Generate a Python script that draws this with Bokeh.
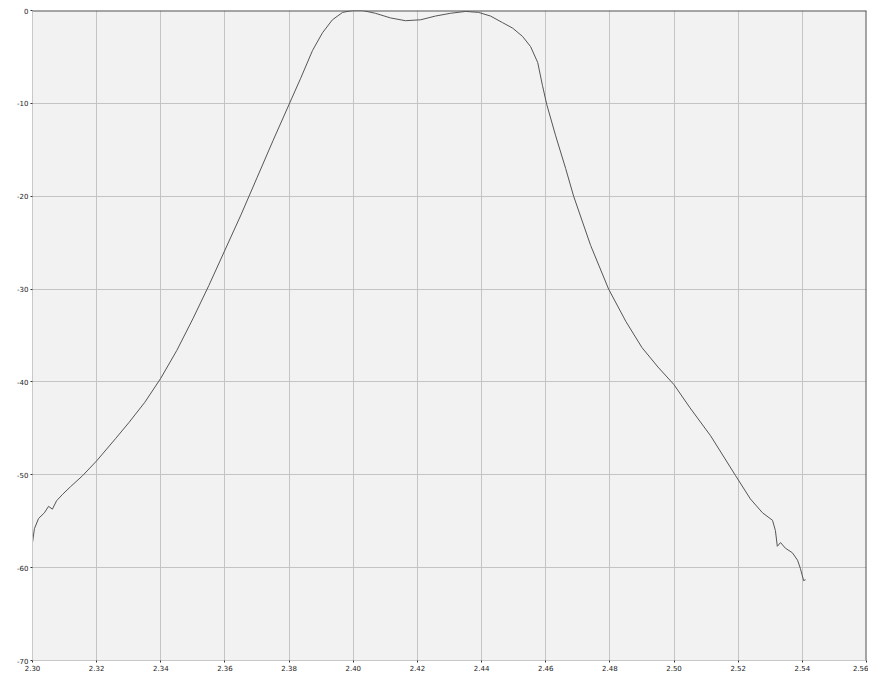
from bokeh.plotting import figure
from bokeh.models import FixedTicker, Span, Range1d
from bokeh.embed import file_html
from bokeh.resources import INLINE

# Frequency (GHz) and response (dB)
freq = [2.3000, 2.3006, 2.3019, 2.3037, 2.3050, 2.3062, 2.3075, 2.3094, 2.3118, 2.3156,
        2.3200, 2.3259, 2.3300, 2.3350, 2.3400, 2.3450, 2.3500, 2.3550, 2.3600, 2.3650,
        2.3700, 2.3750, 2.3800, 2.3836, 2.3873, 2.3904, 2.3935, 2.3967, 2.3998, 2.4029,
        2.4069, 2.4116, 2.4163, 2.4210, 2.4256, 2.4303, 2.4350, 2.4390, 2.4428, 2.4465,
        2.4497, 2.4528, 2.4553, 2.4575, 2.4590, 2.4603, 2.4631, 2.4662, 2.4687, 2.4740,
        2.4796, 2.4850, 2.4900, 2.4950, 2.5000, 2.5050, 2.5114, 2.5192, 2.5238, 2.5276,
        2.5307, 2.5316, 2.5322, 2.5332, 2.5347, 2.5369, 2.5385, 2.5394, 2.5404, 2.5410]
resp = [-57.3, -55.8, -54.7, -54.1, -53.4, -53.7, -52.8, -52.1, -51.3, -50.1,
        -48.5, -46.1, -44.4, -42.2, -39.6, -36.6, -33.2, -29.6, -25.8, -22.0,
        -18.0, -14.0, -10.1, -7.3, -4.3, -2.4, -1.0, -0.2, 0.0, 0.0,
        -0.3, -0.8, -1.1, -1.0, -0.6, -0.3, -0.1, -0.2, -0.6, -1.3,
        -1.9, -2.8, -3.9, -5.6, -8.1, -10.1, -13.5, -17.0, -20.0, -25.3,
        -30.0, -33.5, -36.3, -38.4, -40.3, -42.8, -45.8, -50.1, -52.6, -54.1,
        -54.9, -56.0, -57.7, -57.3, -57.9, -58.4, -59.2, -60.1, -61.4, -61.3]

x_ticks = [2.30, 2.32, 2.34, 2.36, 2.38, 2.40, 2.42, 2.44, 2.46, 2.48, 2.50, 2.52, 2.54, 2.56]
y_ticks = [0, -10, -20, -30, -40, -50, -60, -70]

p = figure(width=868, height=673, output_backend="svg", toolbar_location=None,
           x_range=Range1d(2.30, 2.56), y_range=Range1d(-70, 0),
           min_border_left=32, min_border_top=10, min_border_right=2, min_border_bottom=13)

p.background_fill_color = "#f2f2f2"
p.border_fill_color = "white"
p.outline_line_color = None

p.xaxis.ticker = FixedTicker(ticks=x_ticks)
p.yaxis.ticker = FixedTicker(ticks=y_ticks)
p.xaxis.major_label_overrides = {t: f"{t:.2f}" for t in x_ticks}
p.yaxis.major_label_overrides = {t: f"{t:d}" for t in y_ticks}

for ax in (p.xaxis[0], p.yaxis[0]):
    ax.axis_line_color = "#c8c8c8"
    ax.major_tick_line_color = "#333333"
    ax.major_tick_out = 2
    ax.major_tick_in = 0
    ax.minor_tick_line_color = None
    ax.major_label_text_font_size = "7px"
    ax.major_label_text_color = "#222222"
    ax.major_label_text_font = "DejaVu Sans"
    ax.major_label_standoff = 2

p.xgrid.grid_line_color = "#c4c4c4"
p.ygrid.grid_line_color = "#c4c4c4"
p.xgrid.grid_line_width = 1
p.ygrid.grid_line_width = 1

p.add_layout(Span(location=0, dimension="width", line_color="#555555", line_width=2))
p.add_layout(Span(location=2.56, dimension="height", line_color="#555555", line_width=2))

p.line(freq, resp, line_color="#555555", line_width=1)

open("out.html", "w").write(file_html(p, INLINE))
